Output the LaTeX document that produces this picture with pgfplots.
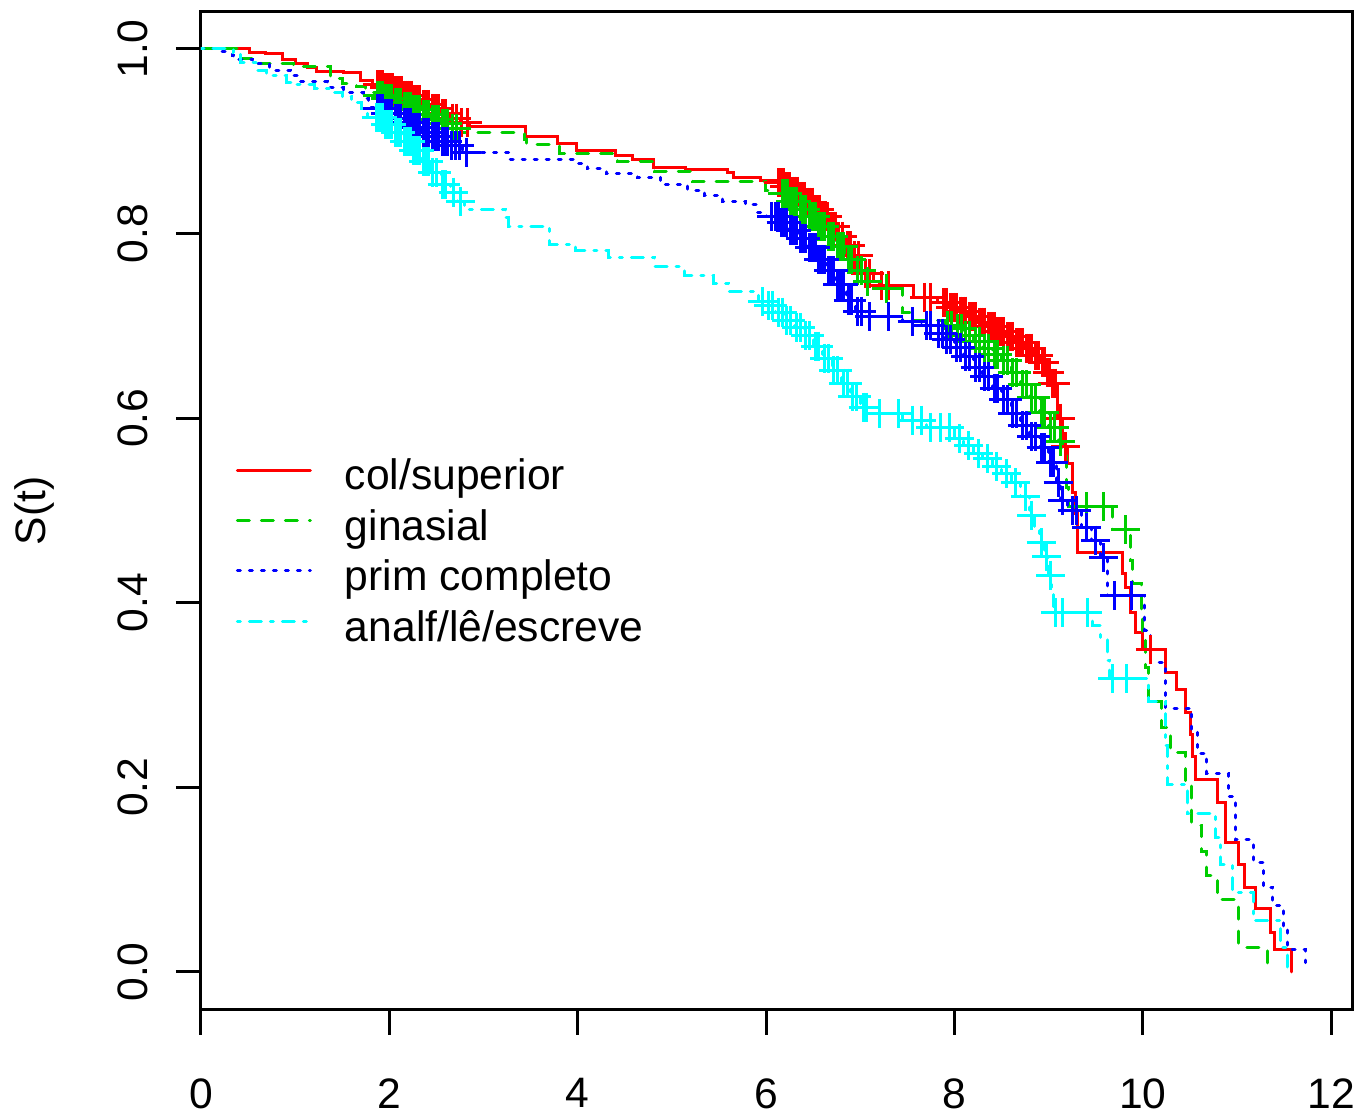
\documentclass[border=0pt]{standalone}
\usepackage{fontspec}
\setmainfont{Liberation Sans}
\usepackage{pgfplots}
\pgfplotsset{compat=1.18}
\definecolor{rred}{HTML}{FF0000}
\definecolor{rgreen}{HTML}{00CD00}
\definecolor{rblue}{HTML}{0000FF}
\definecolor{rcyan}{HTML}{00FFFF}
\newcommand{\rf}{\fontsize{21.3}{25.6}\selectfont}
\begin{document}
\begin{tikzpicture}
\useasboundingbox (-100.5pt,-53.5pt) rectangle (581.5pt,505pt);
\begin{axis}[
  at={(0pt,0pt)}, anchor=south west,
  scale only axis, width=575.5pt, height=499pt,
  xmin=0, xmax=12.22, ymin=-0.0412, ymax=1.0401,
  axis line style={line width=1.5pt},
  tick align=outside, major tick length=12.5pt,
  tick style={line width=1.5pt, black},
  tick pos=left,
  xtick={0,2,4,6,8,10,12}, xticklabels={0,2,4,6,8,10,12},
  ytick={0,0.2,0.4,0.6,0.8,1.0}, yticklabels={0.0,0.2,0.4,0.6,0.8,1.0},
  ticklabel style={font=\rf, inner sep=0pt},
  xticklabel style={anchor=north},
  yticklabel style={rotate=90, anchor=south},
  xticklabel shift=21.5pt, yticklabel shift=14pt,
  ylabel={S(t)},
  ylabel style={font=\rf, at={(axis description cs:-0.1445,0.5)}, anchor=center},
  legend cell align=left,
  legend image code/.code={\draw[#1] (0pt,3pt) -- (36.5pt,3pt);},
  legend style={draw=none, fill=none, font=\rf, inner sep=0pt, outer sep=0pt,
    row sep=8.25pt, nodes={inner sep=0pt},
    /tikz/every odd column/.style={column sep=16.5pt},
    at={(axis description cs:0.0304,0.552)}, anchor=north west},
  every axis plot/.append style={line width=1.5pt, line cap=round},
]
% ---------------- col/superior (red)
\addplot[rred, const plot, no marks] coordinates {
(0,1.0) (0.52,0.9967) (0.68,0.9946) (0.86,0.989) (1.00,0.984) (1.13,0.980) (1.23,0.976)
(1.51,0.974) (1.69,0.966) (1.82,0.961) (1.95,0.958) (2.05,0.955) (2.15,0.950) (2.25,0.945)
(2.35,0.940) (2.45,0.935) (2.55,0.930) (2.65,0.925) (2.75,0.920) (2.85,0.916) (3.44,0.905)
(3.79,0.898) (3.99,0.890) (4.40,0.885) (4.58,0.880) (4.80,0.872) (5.14,0.869) (5.59,0.866)
(5.65,0.861) (5.94,0.858) (6.13,0.855) (6.20,0.851) (6.28,0.846) (6.36,0.840) (6.44,0.834)
(6.52,0.826) (6.60,0.818) (6.68,0.808) (6.76,0.797) (6.84,0.787) (6.92,0.776) (7.00,0.757)
(7.14,0.748) (7.20,0.744) (7.56,0.731) (7.82,0.725) (7.95,0.720) (8.05,0.716) (8.15,0.710)
(8.25,0.704) (8.35,0.699) (8.45,0.694) (8.55,0.688) (8.65,0.682) (8.75,0.676) (8.85,0.668)
(8.92,0.660) (8.98,0.650) (9.02,0.638) (9.09,0.600) (9.15,0.569) (9.20,0.551) (9.25,0.519)
(9.28,0.497) (9.31,0.454) (9.78,0.432) (9.81,0.417) (9.87,0.390) (9.92,0.368) (10.00,0.349)
(10.24,0.325) (10.36,0.306) (10.45,0.281) (10.50,0.257) (10.53,0.233) (10.56,0.208)
(10.79,0.184) (10.88,0.140) (11.02,0.116) (11.08,0.092) (11.20,0.069) (11.35,0.043)
(11.40,0.024) (11.58,0.0)};
\addlegendentry{col/superior}
% ---------------- ginasial (green)
\addplot[rgreen, const plot, no marks, dash pattern=on 6pt off 6pt] coordinates {
(0,1.0) (0.40,0.990) (0.55,0.984) (0.98,0.981) (1.37,0.968) (1.50,0.963) (1.65,0.959)
(1.75,0.953) (1.85,0.950) (1.95,0.946) (2.05,0.942) (2.15,0.938) (2.25,0.934) (2.35,0.929)
(2.45,0.924) (2.55,0.919) (2.65,0.914) (2.75,0.910) (3.43,0.902) (3.46,0.896) (3.81,0.887)
(4.42,0.878) (4.82,0.867) (5.22,0.856) (5.99,0.847) (6.15,0.843) (6.25,0.835) (6.35,0.826)
(6.45,0.818) (6.55,0.808) (6.65,0.797) (6.75,0.786) (6.85,0.772) (6.95,0.760) (7.05,0.748)
(7.15,0.740) (7.45,0.715) (7.55,0.706) (7.90,0.700) (8.00,0.697) (8.10,0.690) (8.20,0.683)
(8.30,0.676) (8.40,0.669) (8.50,0.662) (8.60,0.650) (8.70,0.636) (8.80,0.622) (8.90,0.606)
(9.00,0.590) (9.10,0.575) (9.15,0.562) (9.19,0.525) (9.21,0.504) (9.68,0.479) (9.87,0.446)
(9.89,0.421) (9.98,0.392) (10.00,0.367) (10.03,0.330) (10.06,0.293) (10.20,0.265)
(10.29,0.238) (10.45,0.205) (10.52,0.159) (10.62,0.130) (10.68,0.105) (10.79,0.078)
(11.02,0.027) (11.32,0.0)};
\addlegendentry{ginasial}
% ---------------- prim completo (blue)
\addplot[rblue, const plot, no marks, dash pattern=on 1.5pt off 4.5pt] coordinates {
(0,1.0) (0.20,0.997) (0.33,0.993) (0.34,0.989) (0.55,0.984) (0.73,0.977) (0.95,0.971)
(1.05,0.965) (1.34,0.958) (1.51,0.953) (1.72,0.946) (1.78,0.937) (1.85,0.935) (1.95,0.930)
(2.05,0.925) (2.15,0.920) (2.25,0.915) (2.35,0.910) (2.45,0.905) (2.55,0.900) (2.65,0.895)
(2.78,0.888) (3.28,0.880) (3.96,0.876) (4.10,0.870) (4.30,0.865) (4.63,0.861) (4.88,0.853)
(5.17,0.847) (5.35,0.841) (5.54,0.835) (5.78,0.831) (5.90,0.823) (6.00,0.818) (6.15,0.812)
(6.25,0.803) (6.35,0.795) (6.45,0.785) (6.55,0.772) (6.65,0.760) (6.75,0.745) (6.85,0.728)
(6.95,0.716) (7.05,0.710) (7.45,0.705) (7.65,0.700) (7.80,0.692) (7.90,0.685) (8.00,0.677)
(8.10,0.667) (8.20,0.655) (8.30,0.645) (8.40,0.632) (8.50,0.620) (8.60,0.605) (8.70,0.592)
(8.80,0.580) (8.90,0.568) (9.00,0.552) (9.08,0.530) (9.12,0.511) (9.20,0.500) (9.35,0.482)
(9.45,0.468) (9.55,0.449) (9.62,0.408) (10.02,0.370) (10.08,0.335) (10.24,0.286)
(10.52,0.262) (10.58,0.237) (10.68,0.215) (10.91,0.190) (10.98,0.143) (11.17,0.119)
(11.28,0.092) (11.38,0.072) (11.49,0.048) (11.54,0.024) (11.73,0.010)};
\addlegendentry{prim completo}
% ---------------- analf/le/escreve (cyan)
\addplot[rcyan, const plot, no marks, dash pattern=on 1.5pt off 4.5pt on 6pt off 4.5pt] coordinates {
(0,1.0) (0.34,0.996) (0.42,0.985) (0.59,0.977) (0.70,0.971) (0.91,0.964) (1.00,0.961)
(1.21,0.957) (1.40,0.953) (1.50,0.948) (1.60,0.942) (1.70,0.936) (1.77,0.926) (1.95,0.918)
(2.05,0.910) (2.15,0.900) (2.25,0.890) (2.35,0.878) (2.45,0.866) (2.55,0.853) (2.65,0.845)
(2.72,0.835) (2.80,0.826) (3.23,0.817) (3.26,0.808) (3.70,0.788) (3.98,0.782) (4.33,0.774)
(4.82,0.764) (5.13,0.755) (5.44,0.746) (5.60,0.737) (5.92,0.726) (6.00,0.722) (6.10,0.715)
(6.20,0.706) (6.30,0.698) (6.40,0.690) (6.50,0.678) (6.60,0.665) (6.70,0.652) (6.80,0.638)
(6.90,0.624) (7.00,0.612) (7.10,0.605) (7.45,0.598) (7.70,0.590) (8.00,0.578) (8.10,0.570)
(8.20,0.562) (8.30,0.556) (8.40,0.548) (8.50,0.540) (8.60,0.530) (8.70,0.515) (8.80,0.495)
(8.85,0.480) (8.90,0.465) (8.95,0.450) (9.00,0.430) (9.03,0.410) (9.05,0.389) (9.47,0.375)
(9.55,0.362) (9.62,0.338) (9.65,0.318) (10.06,0.293) (10.24,0.245) (10.26,0.203)
(10.47,0.172) (10.77,0.146) (10.82,0.116) (10.95,0.086) (11.17,0.056) (11.46,0.027)
(11.53,0.0)};
\addlegendentry{analf/lê/escreve}
% ---------------- censoring marks
\pgfplotsset{cens/.style={only marks, mark=+, mark size=7.25pt, forget plot,
  mark options={solid, line width=1.5pt, line cap=butt}}}
\addplot[rred, cens] coordinates {
(1.87,0.961) (1.89,0.961) (1.91,0.961) (1.93,0.961)
(1.95,0.958) (1.97,0.958) (1.99,0.958) (2.01,0.958) (2.03,0.958)
(2.05,0.955) (2.07,0.955) (2.09,0.955) (2.11,0.955) (2.13,0.955)
(2.15,0.950) (2.17,0.950) (2.19,0.950) (2.21,0.950) (2.23,0.950)
(2.26,0.945) (2.29,0.945) (2.32,0.945) (2.36,0.940) (2.39,0.940) (2.42,0.940)
(2.46,0.935) (2.49,0.935) (2.52,0.935) (2.56,0.930) (2.60,0.930) (2.67,0.925) (2.71,0.925)
(2.77,0.920) (2.83,0.920)
(6.13,0.855) (6.155,0.855) (6.18,0.855) (6.20,0.851) (6.225,0.851) (6.25,0.851)
(6.28,0.846) (6.305,0.846) (6.33,0.846) (6.36,0.840) (6.385,0.840) (6.41,0.840)
(6.44,0.834) (6.465,0.834) (6.49,0.834) (6.52,0.826) (6.545,0.826) (6.57,0.826)
(6.60,0.818) (6.625,0.818) (6.65,0.818) (6.68,0.808) (6.71,0.808) (6.74,0.808)
(6.77,0.797) (6.81,0.797) (6.86,0.787) (6.90,0.787) (6.94,0.776) (6.98,0.776)
(7.05,0.757) (7.10,0.757) (7.22,0.744) (7.30,0.744) (7.68,0.731) (7.75,0.731)
(7.88,0.725) (7.92,0.725) (7.96,0.720) (7.99,0.720) (8.02,0.720) (8.06,0.716) (8.09,0.716)
(8.12,0.716) (8.16,0.710) (8.19,0.710) (8.22,0.710) (8.26,0.704) (8.29,0.704) (8.32,0.704)
(8.36,0.699) (8.39,0.699) (8.42,0.699) (8.46,0.694) (8.49,0.694) (8.52,0.694) (8.56,0.688)
(8.59,0.688) (8.62,0.688) (8.66,0.682) (8.69,0.682) (8.72,0.682) (8.76,0.676) (8.79,0.676)
(8.82,0.676) (8.86,0.668) (8.89,0.668) (8.93,0.660) (8.96,0.660) (8.99,0.650) (9.01,0.650)
(9.04,0.638) (9.07,0.638) (9.12,0.600) (9.18,0.569) (10.08,0.349)};
\addplot[rgreen, cens] coordinates {
(1.87,0.950) (1.90,0.950) (1.93,0.950) (1.96,0.946) (1.99,0.946) (2.02,0.946)
(2.06,0.942) (2.09,0.942) (2.12,0.942) (2.16,0.938) (2.19,0.938) (2.22,0.938)
(2.26,0.934) (2.29,0.934) (2.32,0.934) (2.36,0.929) (2.39,0.929) (2.42,0.929)
(2.46,0.924) (2.49,0.924) (2.52,0.924) (2.56,0.919) (2.59,0.919) (2.62,0.919)
(2.67,0.914) (2.71,0.914)
(6.17,0.843) (6.20,0.843) (6.23,0.843) (6.26,0.835) (6.29,0.835) (6.32,0.835)
(6.36,0.826) (6.39,0.826) (6.42,0.826) (6.46,0.818) (6.49,0.818) (6.52,0.818)
(6.56,0.808) (6.59,0.808) (6.62,0.808) (6.66,0.797) (6.69,0.797) (6.72,0.797)
(6.76,0.786) (6.79,0.786) (6.82,0.786) (6.87,0.772) (6.91,0.772) (6.97,0.760) (7.01,0.760)
(7.08,0.748) (7.28,0.740)
(7.93,0.700) (7.97,0.700) (8.03,0.697) (8.07,0.697) (8.12,0.690) (8.16,0.690)
(8.22,0.683) (8.26,0.683) (8.32,0.676) (8.36,0.676) (8.42,0.669) (8.46,0.669)
(8.52,0.662) (8.56,0.662) (8.62,0.650) (8.66,0.650) (8.72,0.636) (8.76,0.636)
(8.82,0.622) (8.86,0.622) (8.92,0.606) (8.96,0.606) (9.02,0.590) (9.06,0.590)
(9.12,0.575) (9.40,0.504) (9.58,0.504) (9.82,0.479)};
\addplot[rblue, cens] coordinates {
(1.87,0.935) (1.90,0.935) (1.93,0.935) (1.96,0.930) (1.99,0.930) (2.02,0.930)
(2.06,0.925) (2.09,0.925) (2.12,0.925) (2.16,0.920) (2.19,0.920) (2.22,0.920)
(2.26,0.915) (2.29,0.915) (2.32,0.915) (2.36,0.910) (2.39,0.910) (2.42,0.910)
(2.46,0.905) (2.49,0.905) (2.52,0.905) (2.56,0.900) (2.59,0.900) (2.62,0.900)
(2.66,0.895) (2.70,0.895) (2.74,0.895) (2.82,0.888)
(6.06,0.818) (6.10,0.818) (6.13,0.818) (6.16,0.812) (6.19,0.812) (6.22,0.812)
(6.26,0.803) (6.29,0.803) (6.32,0.803) (6.36,0.795) (6.39,0.795) (6.42,0.795)
(6.46,0.785) (6.49,0.785) (6.52,0.785) (6.56,0.772) (6.59,0.772) (6.62,0.772)
(6.66,0.760) (6.69,0.760) (6.72,0.760) (6.76,0.745) (6.79,0.745) (6.82,0.745)
(6.87,0.728) (6.91,0.728) (6.97,0.716) (7.01,0.716) (7.10,0.710) (7.30,0.710)
(7.55,0.705) (7.70,0.700) (7.75,0.700) (7.83,0.692) (7.87,0.692) (7.92,0.685) (7.96,0.685)
(8.02,0.677) (8.06,0.677) (8.12,0.667) (8.16,0.667) (8.22,0.655) (8.26,0.655)
(8.32,0.645) (8.36,0.645) (8.42,0.632) (8.46,0.632) (8.52,0.620) (8.56,0.620)
(8.62,0.605) (8.66,0.605) (8.72,0.592) (8.76,0.592) (8.82,0.580) (8.86,0.580)
(8.92,0.568) (8.96,0.568) (9.02,0.552) (9.05,0.552) (9.10,0.530) (9.15,0.511)
(9.25,0.500) (9.30,0.500) (9.40,0.482) (9.50,0.468) (9.58,0.449) (9.70,0.408) (9.88,0.408)};
\addplot[rcyan, cens] coordinates {
(1.86,0.926) (1.90,0.926) (1.93,0.926) (1.96,0.918) (1.99,0.918) (2.02,0.918)
(2.06,0.910) (2.09,0.910) (2.12,0.910) (2.16,0.900) (2.19,0.900) (2.22,0.900)
(2.26,0.890) (2.29,0.890) (2.32,0.890) (2.36,0.878) (2.39,0.878) (2.42,0.878)
(2.46,0.866) (2.50,0.866) (2.56,0.853) (2.60,0.853) (2.68,0.845) (2.75,0.835)
(5.96,0.726) (6.03,0.722) (6.07,0.722) (6.13,0.715) (6.17,0.715) (6.22,0.706) (6.26,0.706)
(6.32,0.698) (6.36,0.698) (6.42,0.690) (6.46,0.690) (6.52,0.678) (6.56,0.678)
(6.62,0.665) (6.66,0.665) (6.72,0.652) (6.76,0.652) (6.82,0.638) (6.86,0.638)
(6.92,0.624) (6.96,0.624) (7.03,0.612) (7.07,0.612) (7.20,0.605) (7.40,0.605)
(7.55,0.598) (7.65,0.598) (7.75,0.590) (7.85,0.590) (7.95,0.590)
(8.05,0.578) (8.15,0.570) (8.25,0.562) (8.35,0.556) (8.45,0.548) (8.55,0.540) (8.65,0.530)
(8.75,0.515) (8.82,0.495) (8.92,0.465) (8.98,0.450) (9.02,0.430) (9.07,0.389) (9.15,0.389)
(9.41,0.389) (9.68,0.318) (9.83,0.318)};
\end{axis}
\end{tikzpicture}
\end{document}
